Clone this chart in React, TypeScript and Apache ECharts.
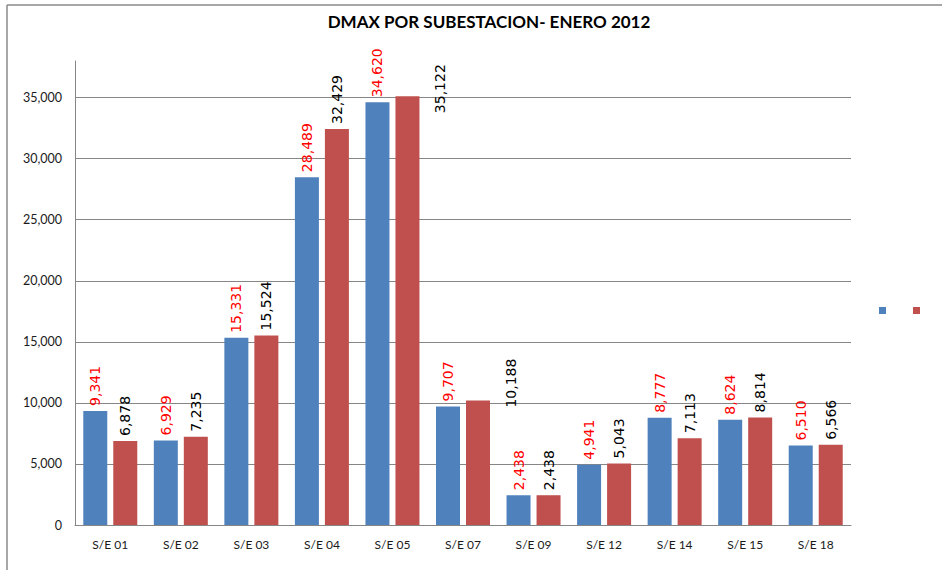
import React, { useEffect, useRef } from "react";
import * as echarts from "echarts";

const categories = ["S/E 01", "S/E 02", "S/E 03", "S/E 04", "S/E 05", "S/E 07", "S/E 09", "S/E 12", "S/E 14", "S/E 15", "S/E 18"];
const seriesBlue = [9341, 6929, 15331, 28489, 34620, 9707, 2438, 4941, 8777, 8624, 6510];
const seriesRed = [6878, 7235, 15524, 32429, 35122, 10188, 2438, 5043, 7113, 8814, 6566];
const seriesNames = ["Serie 1", "Serie 2"];
const titleText = "DMAX POR SUBESTACION- ENERO 2012";

const fmt = (v: number) => v.toLocaleString("en-US");

// labels that Excel pushed sideways (index -> [local x, local y] offset in rotated frame)
const redLabelShift: Record<number, [number, number]> = {
  4: [-22, 33],
  5: [-12, 33],
};

export default function App() {
  const ref = useRef<HTMLDivElement>(null);
  useEffect(() => {
    if (!ref.current) return;
    const chart = echarts.init(ref.current, null, { renderer: "svg" });
    const labelBase = {
      show: true,
      position: "top",
      rotate: 90,
      align: "left",
      verticalAlign: "middle",
      distance: 5,
      fontFamily: "DejaVu Sans",
      fontSize: 14,
      formatter: (p: any) => fmt(p.value),
    };
    const gridColors = ["#868686", "#868686", "#868686", "#868686", "#868686", "#868686", "#868686", "#868686", "rgba(0,0,0,0)"];
    chart.setOption({
      animation: false,
      backgroundColor: "#ffffff",
      title: {
        text: titleText,
        left: 484,
        top: 8,
        textAlign: "center",
        textStyle: { fontFamily: "Lato", fontWeight: "bold", fontSize: 17, color: "#000" },
      },
      legend: {
        left: 874,
        top: 302,
        itemWidth: 7,
        itemHeight: 7,
        itemGap: 27,
        icon: "rect",
        formatter: () => "",
        data: seriesNames,
      },
      grid: { left: 75, right: 91, top: 61, bottom: 45, containLabel: false },
      xAxis: {
        type: "category",
        data: categories,
        axisLine: { lineStyle: { color: "#868686", width: 1 } },
        axisTick: { show: false },
        axisLabel: { fontFamily: "Lato", fontSize: 12, color: "#1a1a1a", margin: 13 },
      },
      yAxis: {
        type: "value",
        min: 0,
        max: 38000,
        interval: 5000,
        axisLine: { show: true, lineStyle: { color: "#868686", width: 1 } },
        axisTick: { show: false },
        axisLabel: {
          fontFamily: "Lato",
          fontSize: 12.5,
          color: "#1a1a1a",
          margin: 13,
          showMaxLabel: false,
          formatter: (v: number) => (v % 5000 === 0 ? fmt(v) : ""),
        },
        splitLine: { show: true, lineStyle: { color: gridColors, width: 1 } },
      },
      graphic: [
        { type: "line", shape: { x1: 7, y1: 5, x2: 942, y2: 5 }, style: { stroke: "#8a8a8a", lineWidth: 1.5 } },
        { type: "line", shape: { x1: 7, y1: 5, x2: 7, y2: 570 }, style: { stroke: "#8a8a8a", lineWidth: 1.5 } },
      ],
      series: [
        {
          name: seriesNames[0],
          type: "bar",
          barWidth: 24,
          barGap: "25%",
          itemStyle: { color: "#4F81BD" },
          label: { ...labelBase, color: "#FF0000" },
          data: seriesBlue,
        },
        {
          name: seriesNames[1],
          type: "bar",
          barWidth: 24,
          barGap: "25%",
          itemStyle: { color: "#C0504D" },
          label: { ...labelBase, color: "#000000" },
          data: seriesRed.map((v, i) =>
            redLabelShift[i] ? { value: v, label: { offset: redLabelShift[i] } } : v
          ),
        },
      ],
    });
    return () => chart.dispose();
  }, []);
  return <div ref={ref} style={{ position: "fixed", left: 0, top: 0, width: 942, height: 570 }} />;
}
